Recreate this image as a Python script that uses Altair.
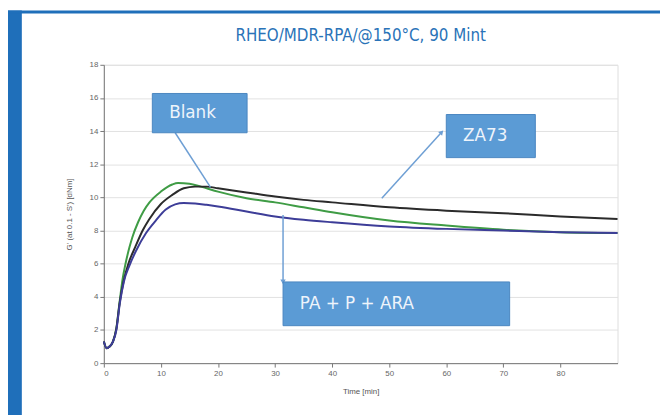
import altair as alt
import pandas as pd

# ---- data ----
series_names = ["Blank", "ZA73", "PA + P + ARA"]

green_x = [0, 0.5, 1, 1.6, 2.2, 2.8, 3.3, 3.8, 4.5, 5, 6, 7, 8, 10, 12, 13, 15, 17, 20, 25, 30, 35, 40, 50, 60, 70, 80, 90]
green_y = [1.3, 0.9, 1.0, 1.3, 2.1, 3.8, 5.1, 6.0, 7.0, 7.6, 8.5, 9.2, 9.7, 10.35, 10.78, 10.87, 10.82, 10.65, 10.35, 9.95, 9.7, 9.4, 9.1, 8.6, 8.3, 8.05, 7.9, 7.85]

black_x = [0, 0.5, 1, 1.6, 2.2, 2.8, 3.5, 4.3, 5.5, 6.8, 7.9, 10, 12, 14, 16, 18, 20, 25, 30, 35, 40, 50, 60, 70, 80, 90]
black_y = [1.3, 0.9, 1.0, 1.3, 2.1, 3.7, 5.0, 6.0, 7.0, 8.0, 8.65, 9.6, 10.15, 10.55, 10.65, 10.65, 10.55, 10.3, 10.05, 9.85, 9.7, 9.4, 9.2, 9.05, 8.85, 8.7]

blue_x = [0, 0.5, 1, 1.6, 2.2, 2.8, 3.5, 4.5, 5.6, 7.4, 9.1, 10.8, 12.5, 14, 16, 18, 20, 25, 30, 35, 40, 50, 60, 70, 80, 90]
blue_y = [1.3, 0.9, 1.0, 1.3, 2.0, 3.6, 4.9, 5.9, 6.75, 7.85, 8.6, 9.25, 9.58, 9.66, 9.63, 9.55, 9.45, 9.15, 8.85, 8.65, 8.5, 8.25, 8.1, 8.0, 7.9, 7.85]

# callout boxes (data coordinates)
box_labels = ["Blank", "ZA73", "PA + P + ARA"]
box_x1 = [8.5, 60.0, 31.4]
box_x2 = [25.1, 75.6, 71.1]
box_y1 = [13.9, 12.4, 2.26]
box_y2 = [16.27, 15.0, 4.9]

# connector lines (start -> end, data coordinates)
arrow_x1 = [12.5, 48.7, 31.4]
arrow_y1 = [13.9, 9.95, 8.94]
arrow_x2 = [18.7, 59.1, 31.4]
arrow_y2 = [10.6, 13.9, 4.95]

x_ticks = [0, 10, 20, 30, 40, 50, 60, 70, 80]
y_ticks = [0, 2, 4, 6, 8, 10, 12, 14, 16, 18]

title_text = "RHEO/MDR-RPA/@150°C, 90 Mint"
x_title = "Time [min]"
y_title = "G' (at 0.1 - S') [dNm]"

# ---- build tables ----
rows = []
for name, xs, ys in [("Blank", green_x, green_y), ("ZA73", black_x, black_y), ("PA + P + ARA", blue_x, blue_y)]:
    for i, (xv, yv) in enumerate(zip(xs, ys)):
        rows.append({"series": name, "t": xv, "v": yv, "order": i})
curves = pd.DataFrame(rows)

boxes = pd.DataFrame({"label": box_labels, "x1": box_x1, "x2": box_x2, "y1": box_y1, "y2": box_y2})
boxes["ym"] = (boxes["y1"] + boxes["y2"]) / 2
arrows = pd.DataFrame({"label": box_labels, "x1": arrow_x1, "y1": arrow_y1, "x2": arrow_x2, "y2": arrow_y2})

xscale = alt.Scale(domain=[0, 90], nice=False, zero=False)
yscale = alt.Scale(domain=[0, 18], nice=False)

BLUE = "#1f6fba"
one = pd.DataFrame({"title": [title_text]})

left_strip = alt.Chart(one).mark_rect(color=BLUE).encode(
    x=alt.value(-97), x2=alt.value(-83), y=alt.value(-55), y2=alt.value(360)
)
top_strip = alt.Chart(one).mark_rect(color=BLUE).encode(
    x=alt.value(-97), x2=alt.value(570), y=alt.value(-55), y2=alt.value(-52)
)
title_mark = alt.Chart(one).mark_text(
    align="center", baseline="middle",
    font="Liberation Sans Narrow, DejaVu Sans Condensed, Roboto Condensed, Liberation Sans, sans-serif",
    fontSize=17, color="#2a73b8"
).encode(x=alt.value(260), y=alt.value(-29), text="title:N")

axis_common = dict(tickSize=4, labelFontSize=8, labelColor="#666", titleFontSize=8,
                   titleFontWeight="normal", titleColor="#555", domainColor="#777", tickColor="#777",
                   labelFont="Liberation Sans", titleFont="Liberation Sans", labelOverlap=False)

xaxis = alt.Axis(title=x_title, values=x_ticks, tickCount=len(x_ticks), grid=False, labelPadding=3,
                 titlePadding=10, **axis_common)
yaxis = alt.Axis(title=y_title, values=y_ticks, tickCount=len(y_ticks), grid=True, gridColor="#e2e2e2",
                 labelPadding=2, titlePadding=16, **axis_common)

lines = alt.Chart(curves).mark_line(strokeWidth=2, interpolate="monotone").encode(
    x=alt.X("t:Q", scale=xscale, axis=xaxis),
    y=alt.Y("v:Q", scale=yscale, axis=yaxis),
    color=alt.Color("series:N", scale=alt.Scale(domain=series_names, range=["#3f9c45", "#2b2b2b", "#3d3d98"]),
                    legend=None),
    order="order:Q",
    detail="series:N",
)

connectors = alt.Chart(arrows).mark_rule(color="#6e9fd4", strokeWidth=1.5).encode(
    x=alt.X("x1:Q", scale=xscale), y=alt.Y("y1:Q", scale=yscale), x2="x2:Q", y2="y2:Q"
)

head_za = alt.Chart(arrows[arrows["label"] == "ZA73"]).mark_point(
    shape="triangle", filled=True, size=30, angle=42, color="#6e9fd4", opacity=1
).encode(x=alt.X("x2:Q", scale=xscale), y=alt.Y("y2:Q", scale=yscale))

head_pa = alt.Chart(arrows[arrows["label"] == "PA + P + ARA"]).mark_point(
    shape="triangle", filled=True, size=30, angle=180, color="#6e9fd4", opacity=1
).encode(x=alt.X("x2:Q", scale=xscale), y=alt.Y("y2:Q", scale=yscale))

box_rects = alt.Chart(boxes).mark_rect(fill="#5b9bd5", stroke="#4a86c0", strokeWidth=1).encode(
    x=alt.X("x1:Q", scale=xscale), x2="x2:Q", y=alt.Y("y1:Q", scale=yscale), y2="y2:Q"
)

box_text = alt.Chart(boxes).mark_text(
    align="left", baseline="middle", dx=17, font="DejaVu Sans", fontSize=17, color="#eef4fb"
).encode(x=alt.X("x1:Q", scale=xscale), y=alt.Y("ym:Q", scale=yscale), text="label:N")

chart = alt.layer(
    lines, left_strip, top_strip, title_mark, connectors, head_za, head_pa, box_rects, box_text
).properties(
    width=520, height=302,
    autosize=alt.AutoSizeParams(type="none"),
    padding={"left": 97, "top": 55, "right": 43, "bottom": 50},
).configure_view(stroke="#8f8f8f", strokeWidth=1).configure(background="white")

chart.save("out.html", embed_options={"renderer": "svg", "actions": False})
